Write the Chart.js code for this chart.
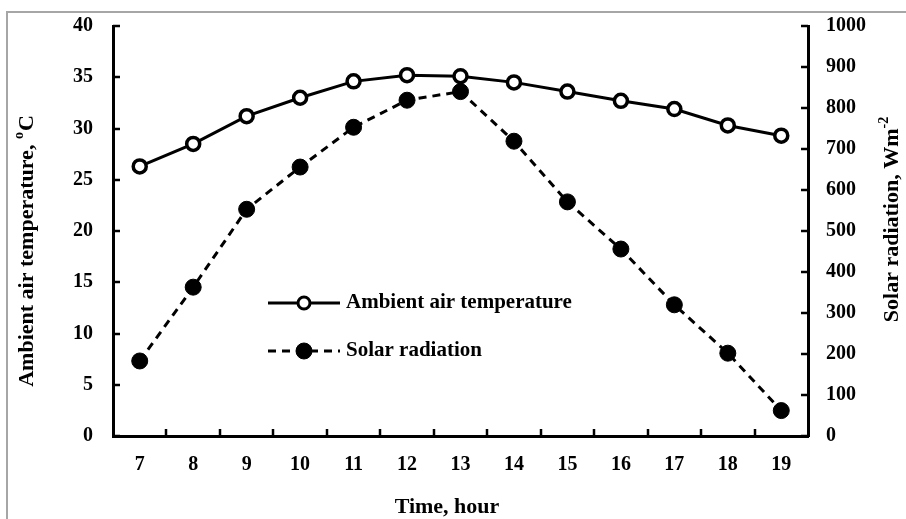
<!DOCTYPE html>
<html>
<head>
<meta charset="utf-8">
<script src="https://cdn.jsdelivr.net/npm/chart.js@4"></script>
<style>
  body { margin: 0; background: #fff; }
  #wrap { position: relative; width: 906px; height: 519px; }
  #frame { position: absolute; left: 6px; top: 11px; width: 920px; height: 540px; border: 2px solid #a6a6a6; }
  canvas { position: absolute; left: 0; top: 0; }
</style>
</head>
<body>
<div id="wrap">
  <div id="frame"></div>
  <canvas id="grafico" width="906" height="519"></canvas>
</div>
<script>
// Dados
const horas = ['7', '8', '9', '10', '11', '12', '13', '14', '15', '16', '17', '18', '19'];
const temperatura = [26.3, 28.5, 31.2, 33.0, 34.6, 35.2, 35.1, 34.5, 33.6, 32.7, 31.9, 30.3, 29.3];
const radiacao = [183, 363, 553, 656, 753, 819, 840, 719, 571, 456, 320, 202, 62];
const ticksTemp = [0, 5, 10, 15, 20, 25, 30, 35, 40];
const ticksRad = [0, 100, 200, 300, 400, 500, 600, 700, 800, 900, 1000];

const fonte = 'Liberation Serif, Times New Roman, serif';

// texto com expoente (ex.: ºC, Wm-2), centrado em (0,0)
function textoComExpoente(c, partes) {
  const largura = partes.reduce((s, p) => {
    c.font = 'bold ' + (p.sup ? 14 : 22) + 'px ' + fonte;
    return s + c.measureText(p.t).width + (p.sup ? 1 : 0);
  }, 0);
  let x = -largura / 2;
  c.textBaseline = 'middle';
  partes.forEach(p => {
    c.font = 'bold ' + (p.sup ? 14 : 22) + 'px ' + fonte;
    c.fillText(p.t, x, p.sup ? -8 : 0);
    x += c.measureText(p.t).width + (p.sup ? 1 : 0);
  });
}

// ticks para dentro + legenda + títulos dos eixos
const extras = {
  id: 'extras',
  afterDraw(chart) {
    const c = chart.ctx, a = chart.chartArea;
    c.save();
    c.strokeStyle = '#000';
    c.lineWidth = 2.5;
    const x = chart.scales.x;
    const passo = x.getPixelForValue(1) - x.getPixelForValue(0);
    for (let i = 0; i < horas.length - 1; i++) {
      const px = Math.round(x.getPixelForValue(i) + passo / 2);
      c.beginPath(); c.moveTo(px, a.bottom); c.lineTo(px, a.bottom - 7); c.stroke();
    }
    const y = chart.scales.y;
    ticksTemp.forEach(v => {
      const py = Math.round(y.getPixelForValue(v));
      c.beginPath(); c.moveTo(a.left, py); c.lineTo(a.left + 7, py); c.stroke();
    });
    const y2 = chart.scales.y2;
    ticksRad.forEach(v => {
      const py = Math.round(y2.getPixelForValue(v));
      c.beginPath(); c.moveTo(a.right, py); c.lineTo(a.right - 7, py); c.stroke();
    });

    // legenda
    const itens = [
      { texto: 'Ambient air temperature', ds: chart.data.datasets[0], y: 303, r: 6, lw: 3 },
      { texto: 'Solar radiation', ds: chart.data.datasets[1], y: 351, r: 8, lw: 1 }
    ];
    const x0 = 268, x1 = 340;
    itens.forEach(it => {
      c.lineWidth = 3;
      c.setLineDash(it.ds.borderDash || []);
      c.beginPath(); c.moveTo(x0, it.y); c.lineTo(x1, it.y); c.stroke();
      c.setLineDash([]);
      c.beginPath(); c.arc((x0 + x1) / 2, it.y, it.r, 0, Math.PI * 2);
      c.fillStyle = it.ds.pointBackgroundColor; c.fill();
      c.lineWidth = it.lw; c.stroke();
      c.fillStyle = '#000';
      c.font = 'bold 21px ' + fonte;
      c.textBaseline = 'middle';
      c.fillText(it.texto, x1 + 6, it.y);
    });

    // títulos
    c.fillStyle = '#000';
    c.textAlign = 'left';
    c.save();
    c.translate(447, 507);
    textoComExpoente(c, [{ t: 'Time, hour' }]);
    c.restore();

    c.save();
    c.translate(27, 251);
    c.rotate(-Math.PI / 2);
    textoComExpoente(c, [{ t: 'Ambient air temperature, ' }, { t: 'o', sup: true }, { t: 'C' }]);
    c.restore();

    c.save();
    c.translate(892, 219);
    c.rotate(-Math.PI / 2);
    textoComExpoente(c, [{ t: 'Solar radiation, Wm' }, { t: '-2', sup: true }]);
    c.restore();
    c.restore();
  }
};

const ctx = document.getElementById('grafico');
new Chart(ctx, {
  type: 'line',
  data: {
    labels: horas,
    datasets: [{
      label: 'Ambient air temperature',
      data: temperatura,
      yAxisID: 'y',
      borderColor: '#000',
      borderWidth: 3,
      pointRadius: 6.5,
      pointBorderWidth: 3.5,
      pointBackgroundColor: '#fff',
      pointBorderColor: '#000',
      tension: 0
    }, {
      label: 'Solar radiation',
      data: radiacao,
      yAxisID: 'y2',
      borderColor: '#000',
      borderWidth: 3,
      borderDash: [8, 6],
      pointRadius: 8,
      pointBorderWidth: 1,
      pointBackgroundColor: '#000',
      pointBorderColor: '#000',
      tension: 0
    }]
  },
  options: {
    responsive: false,
    animation: false,
    layout: { padding: { top: 26, left: 61, right: 30, bottom: 33 } },
    plugins: { legend: { display: false }, tooltip: { enabled: false } },
    scales: {
      x: {
        offset: true,
        grid: { display: false },
        border: { display: true, color: '#000', width: 3 },
        ticks: { color: '#000', padding: 9, font: { family: fonte, weight: 'bold', size: 20 } }
      },
      y: {
        position: 'left',
        min: 0, max: 40,
        afterBuildTicks: s => { s.ticks = ticksTemp.map(v => ({ value: v })); },
        grid: { display: false },
        border: { display: true, color: '#000', width: 3 },
        ticks: { color: '#000', padding: 12, callback: v => String(v), font: { family: fonte, weight: 'bold', size: 20 } }
      },
      y2: {
        position: 'right',
        min: 0, max: 1000,
        afterBuildTicks: s => { s.ticks = ticksRad.map(v => ({ value: v })); },
        grid: { display: false },
        border: { display: true, color: '#000', width: 3 },
        ticks: { color: '#000', padding: 10, callback: v => String(v), font: { family: fonte, weight: 'bold', size: 20 } }
      }
    }
  },
  plugins: [extras]
});
</script>
</body>
</html>
